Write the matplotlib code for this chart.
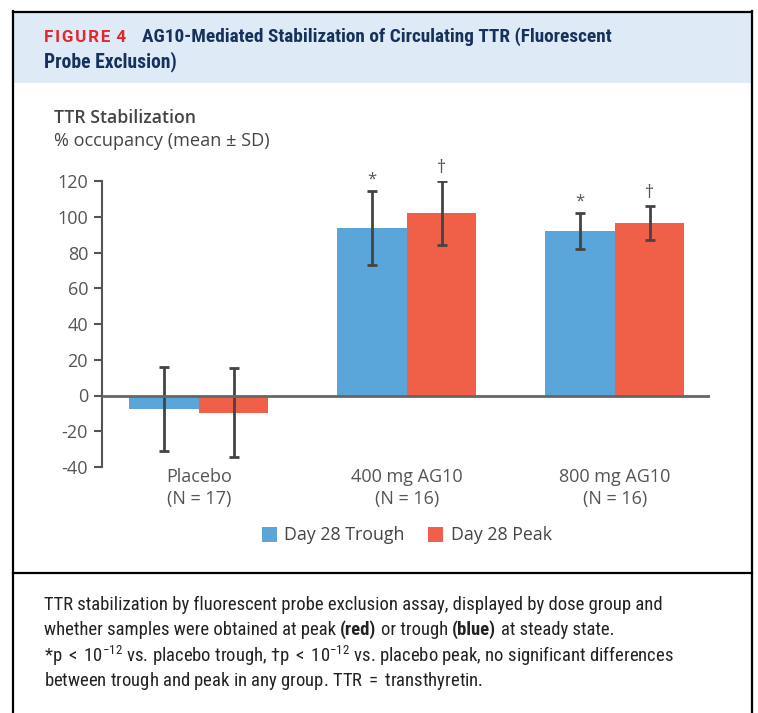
import matplotlib
matplotlib.use("Agg")
import matplotlib.pyplot as plt
from matplotlib import font_manager
from matplotlib.patches import Rectangle
import numpy as np

# data
groups = ["Placebo\n(N = 17)", "400 mg AG10\n(N = 16)", "800 mg AG10\n(N = 16)"]
series = ["Day 28 Trough", "Day 28 Peak"]
trough_mean = [-7.4, 93.8, 92.0]
trough_sd = [23.4, 20.8, 10.3]
peak_mean = [-9.6, 102.1, 96.5]
peak_sd = [24.9, 18.1, 9.5]
trough_mark = ["", "*", "*"]
peak_mark = ["", "\u2020", "\u2020"]
yticks = [-40, -20, 0, 20, 40, 60, 80, 100, 120]

BLUE = "#5aa5d9"
RED = "#f05f47"
GREY = "#555555"
NAVY = "#16315c"

installed = {f.name for f in font_manager.fontManager.ttflist}
def pick(*names):
    for n in names:
        if n in installed:
            return n
    return "DejaVu Sans"

body_font = pick("Open Sans", "Noto Sans", "DejaVu Sans")
narrow_font = pick("Liberation Sans Narrow", "Roboto Condensed", "Open Sans Condensed", "Roboto", "DejaVu Sans")
wide_bold = pick("Roboto", "Open Sans", "DejaVu Sans")
plt.rcParams["font.family"] = [body_font, "DejaVu Sans"]
plt.rcParams["axes.unicode_minus"] = False
plt.rcParams["mathtext.fontset"] = "custom"
plt.rcParams["mathtext.rm"] = narrow_font
plt.rcParams["mathtext.it"] = narrow_font

W, H = 758, 713
fig = plt.figure(figsize=(W / 100, H / 100), dpi=100)
renderer = fig.canvas.get_renderer()

def fx(x):
    return x / W

def fy(y):
    return 1 - y / H

def fit(t, width):
    # shrink/grow font so the text spans the wanted pixel width
    for _ in range(3):
        w = t.get_window_extent(renderer).width
        t.set_fontsize(t.get_fontsize() * width / w)
    return t

# frame, header band, divider
fig.patches.append(Rectangle((fx(13), fy(83)), fx(752) - fx(13), fy(12) - fy(83),
                             transform=fig.transFigure, facecolor="#deebf7", edgecolor="none", zorder=0))
fig.add_artist(plt.Line2D([fx(13), fx(13)], [fy(11), fy(720)], color="black", lw=1.6))
fig.add_artist(plt.Line2D([fx(752), fx(752)], [fy(11), fy(720)], color="black", lw=1.6))
fig.add_artist(plt.Line2D([fx(13), fx(752)], [fy(11.5), fy(11.5)], color="black", lw=1.6))
fig.add_artist(plt.Line2D([fx(13), fx(752)], [fy(573), fy(573)], color="black", lw=1.6))

# title
t = fig.text(fx(44), fy(37), "F\u200aI\u200aG\u200aU\u200aR\u200aE\u200a 4", color="#e3262f", fontsize=11,
             fontweight="bold", family=[wide_bold, "DejaVu Sans"], va="center")
fit(t, 82)
t = fig.text(fx(142), fy(37), "AG10-Mediated Stabilization of Circulating TTR (Fluorescent", color=NAVY,
             fontsize=11, fontweight="bold", family=[narrow_font, "DejaVu Sans"], va="center")
fit(t, 471)
t = fig.text(fx(44), fy(62), "Probe Exclusion)", color=NAVY, fontsize=11, fontweight="bold",
             family=[narrow_font, "DejaVu Sans"], va="center")
fit(t, 133)

# y label
t = fig.text(fx(54), fy(118), "TTR Stabilization", color="#444444", fontsize=12.5, fontweight="semibold", va="center")
fit(t, 141)
t = fig.text(fx(54), fy(141), "% occupancy (mean \u00b1 SD)", color="#444444", fontsize=12.5, va="center")
fit(t, 216)

# axes
ax = fig.add_axes([fx(102), fy(467), fx(710) - fx(102), fy(181) - fy(467)])
x = np.arange(len(groups))
bw = 0.334
ax.bar(x - bw / 2, trough_mean, bw, color=BLUE, zorder=2, label=series[0])
ax.bar(x + bw / 2, peak_mean, bw, color=RED, zorder=2, label=series[1])
ax.errorbar(x - bw / 2, trough_mean, yerr=trough_sd, fmt="none", ecolor="#444444",
            elinewidth=2, capsize=3.5, capthick=2, zorder=3)
ax.errorbar(x + bw / 2, peak_mean, yerr=peak_sd, fmt="none", ecolor="#444444",
            elinewidth=2, capsize=3.5, capthick=2, zorder=3)
for i in range(len(groups)):
    if trough_mark[i]:
        ax.text(x[i] - bw / 2, trough_mean[i] + trough_sd[i] + 1.5, trough_mark[i], ha="center", va="bottom",
                color="#555555", fontsize=12, clip_on=False)
    if peak_mark[i]:
        ax.text(x[i] + bw / 2, peak_mean[i] + peak_sd[i] + 2, peak_mark[i], ha="center", va="bottom",
                color="#555555", fontsize=13, clip_on=False)

ax.axhline(0, color="#666666", lw=2, zorder=4)
ax.set_xlim(-0.466, 2.457)
ax.set_ylim(-40, 120)
ax.set_yticks(yticks)
ax.tick_params(axis="y", direction="out", length=6, width=1.5, color=GREY, labelcolor=GREY,
               labelsize=13, pad=4)
ax.set_xticks([])
for s in ["top", "right", "bottom"]:
    ax.spines[s].set_visible(False)
ax.spines["left"].set_color(GREY)
ax.spines["left"].set_linewidth(1.5)
ax.patch.set_visible(False)

# group labels under the plot
for i, g in enumerate(groups):
    fig.text(ax.transData.transform((x[i], 0))[0] / W, fy(488), g, ha="center", va="center",
             color="#555555", fontsize=13, linespacing=1.25)

# legend
for sx, tx, col, lab in [(262, 284, BLUE, series[0]), (428, 451, RED, series[1])]:
    fig.patches.append(Rectangle((fx(sx), fy(542)), fx(15), 15 / H, transform=fig.transFigure,
                                 facecolor=col, edgecolor="none"))
    fig.text(fx(tx), fy(535), lab, color="#444444", fontsize=12.8, va="center")

# caption
cap_kw = dict(color="#222222", fontsize=11, family=[narrow_font, "DejaVu Sans"], va="center")
t = fig.text(fx(44), fy(605), "TTR stabilization by fluorescent probe exclusion assay, displayed by dose group and", **cap_kw)
fit(t, 618)
cap_kw["fontsize"] = t.get_fontsize()

parts = [("whether samples were obtained at peak", "normal"), ("(red)", "bold"), ("or trough", "normal"),
         ("(blue)", "bold"), ("at steady state.", "normal")]
a1 = fig.text(0, 0, "a a", **cap_kw)
a2 = fig.text(0, 0, "aa", **cap_kw)
sp = a1.get_window_extent(renderer).width - a2.get_window_extent(renderer).width
a1.remove()
a2.remove()
xp = 44
for s, wgt in parts:
    t = fig.text(fx(xp), fy(630), s, fontweight=wgt, **cap_kw)
    xp = t.get_window_extent(renderer).x1 + sp

fig.text(fx(44), fy(656), "*p $<$ 10$^{-12}$ vs. placebo trough, \u2020p $<$ 10$^{-12}$ vs. placebo peak, "
         "no significant differences", **cap_kw)
fig.text(fx(44), fy(681), "between trough and peak in any group. TTR $=$ transthyretin.", **cap_kw)

fig.savefig("out.png", dpi=100)
